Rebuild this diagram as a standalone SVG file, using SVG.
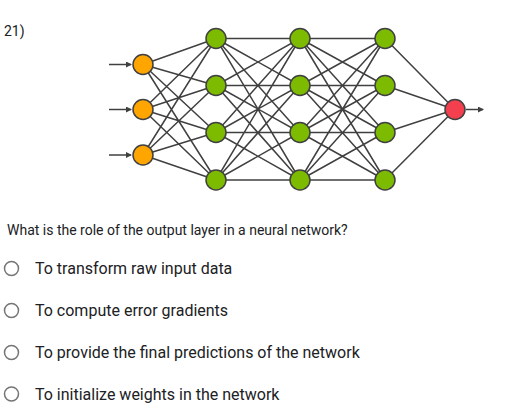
<svg xmlns="http://www.w3.org/2000/svg" width="531" height="419" viewBox="0 0 531 419">
<style>
.e{stroke:#404040;stroke-width:1.5;fill:none}
.n{stroke:#404040;stroke-width:1.5}
.in{fill:#FFA500}
.hid{fill:#7CBB00}
.out{fill:#F43F4F}
.t{font-family:Roboto,"Liberation Sans",sans-serif;fill:#202124}
.q{font-size:14px}
.o{font-size:16px}
.r{fill:#fff;stroke:#757575;stroke-width:1.5}
</style>
<defs>
<marker id="ah" markerWidth="6" markerHeight="6" refX="5" refY="3" orient="auto" markerUnits="userSpaceOnUse">
<path d="M0,0 L6,3 L0,6 Z" fill="#404040"/>
</marker>
</defs>
<rect width="531" height="419" fill="#fff"/>
<text class="t q" x="4" y="36">21)</text>
<g id="connectors">
<path class="e" d="M109,64.5H131" marker-end="url(#ah)"/>
<path class="e" d="M109,109.5H131" marker-end="url(#ah)"/>
<path class="e" d="M109,155H131" marker-end="url(#ah)"/>
<path class="e" d="M466,109.5H483" marker-end="url(#ah)"/>
<path class="e" d="M143,64.5L216,38.5M143,64.5L216,85.5M143,64.5L216,132.5M143,64.5L216,180M143,109.5L216,38.5M143,109.5L216,85.5M143,109.5L216,132.5M143,109.5L216,180M143,155L216,38.5M143,155L216,85.5M143,155L216,132.5M143,155L216,180"/>
<path class="e" d="M216,38.5L300,38.5M216,38.5L300,85.5M216,38.5L300,132.5M216,38.5L300,180M216,85.5L300,38.5M216,85.5L300,85.5M216,85.5L300,132.5M216,85.5L300,180M216,132.5L300,38.5M216,132.5L300,85.5M216,132.5L300,132.5M216,132.5L300,180M216,180L300,38.5M216,180L300,85.5M216,180L300,132.5M216,180L300,180"/>
<path class="e" d="M300,38.5L385,38.5M300,38.5L385,85.5M300,38.5L385,132.5M300,38.5L385,180M300,85.5L385,38.5M300,85.5L385,85.5M300,85.5L385,132.5M300,85.5L385,180M300,132.5L385,38.5M300,132.5L385,85.5M300,132.5L385,132.5M300,132.5L385,180M300,180L385,38.5M300,180L385,85.5M300,180L385,132.5M300,180L385,180"/>
<path class="e" d="M385,38.5L455,109.5M385,85.5L455,109.5M385,132.5L455,109.5M385,180L455,109.5"/>
</g>
<g id="input1"><circle class="n in" cx="143" cy="64.5" r="10"/></g>
<g id="input2"><circle class="n in" cx="143" cy="109.5" r="10"/></g>
<g id="input3"><circle class="n in" cx="143" cy="155" r="10"/></g>
<g id="h1a"><circle class="n hid" cx="216" cy="38.5" r="10"/></g>
<g id="h1b"><circle class="n hid" cx="216" cy="85.5" r="10"/></g>
<g id="h1c"><circle class="n hid" cx="216" cy="132.5" r="10"/></g>
<g id="h1d"><circle class="n hid" cx="216" cy="180" r="10"/></g>
<g id="h2a"><circle class="n hid" cx="300" cy="38.5" r="10"/></g>
<g id="h2b"><circle class="n hid" cx="300" cy="85.5" r="10"/></g>
<g id="h2c"><circle class="n hid" cx="300" cy="132.5" r="10"/></g>
<g id="h2d"><circle class="n hid" cx="300" cy="180" r="10"/></g>
<g id="h3a"><circle class="n hid" cx="385" cy="38.5" r="10"/></g>
<g id="h3b"><circle class="n hid" cx="385" cy="85.5" r="10"/></g>
<g id="h3c"><circle class="n hid" cx="385" cy="132.5" r="10"/></g>
<g id="h3d"><circle class="n hid" cx="385" cy="180" r="10"/></g>
<g id="output"><circle class="n out" cx="455" cy="109.5" r="10"/></g>
<text class="t q" x="7" y="235">What is the role of the output layer in a neural network?</text>
<g id="opt1"><circle class="r" cx="11.5" cy="268.5" r="7"/><text class="t o" x="35" y="274">To transform raw input data</text></g>
<g id="opt2"><circle class="r" cx="11.5" cy="310.5" r="7"/><text class="t o" x="35" y="316">To compute error gradients</text></g>
<g id="opt3"><circle class="r" cx="11.5" cy="352.5" r="7"/><text class="t o" x="35" y="358">To provide the final predictions of the network</text></g>
<g id="opt4"><circle class="r" cx="11.5" cy="394" r="7"/><text class="t o" x="35" y="399.5">To initialize weights in the network</text></g>
</svg>
